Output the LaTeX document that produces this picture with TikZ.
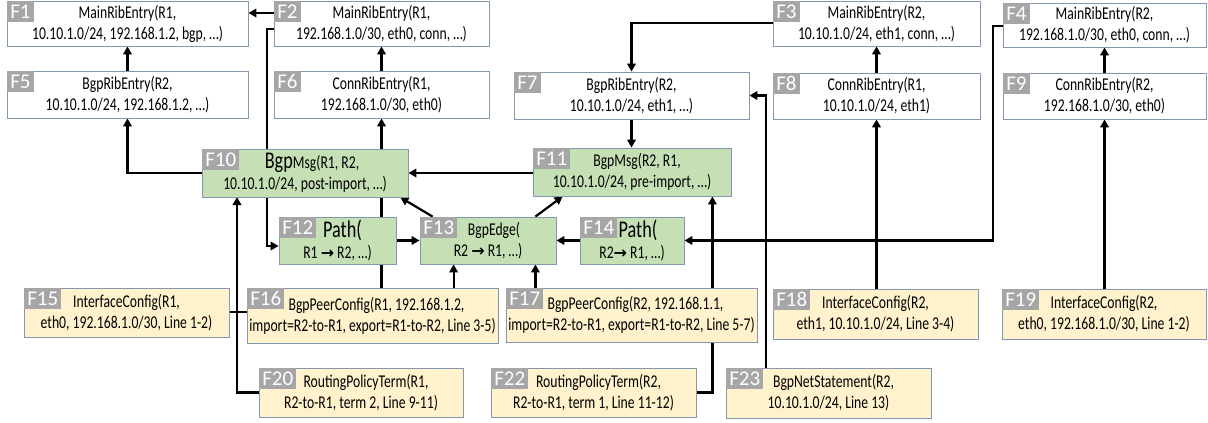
\documentclass[tikz,border=0pt]{standalone}
\usepackage{fontspec}
\setmainfont{Carlito}[FakeStretch=0.76]
\newfontfamily\labfont{Carlito}
\newfontfamily\arrowfont{DejaVu Sans}
\usetikzlibrary{arrows.meta,backgrounds}
\definecolor{bordc}{HTML}{8497B0}
\definecolor{labg}{HTML}{A6A6A6}
\definecolor{grn}{HTML}{C5E0B4}
\definecolor{ylw}{HTML}{FFF2CC}
\newcommand{\bigw}[1]{{\fontsize{24}{21}\selectfont #1}}
\newcommand{\rar}{{\arrowfont\bfseries\fontsize{16}{21}\selectfont →}}
\tikzset{
  box/.style={draw=bordc, line width=0.8pt, align=center, inner sep=0pt, font=\fontsize{18}{21}\selectfont},
  wbox/.style={box, fill=white},
  gbox/.style={box, fill=grn},
  ybox/.style={box, fill=ylw},
  tag/.style={fill=labg, text=white, font=\labfont\fontsize{21}{21}\selectfont, inner xsep=3pt, inner ysep=0pt, minimum height=21pt, anchor=north west},
  arr/.style={line width=2.2pt, -{Triangle[length=8pt,width=8.5pt]}}
}
\newcommand{\mkbox}[7]{%
  \node[#1, minimum width={(#4-#2)*1pt}, minimum height={(#5-#3)*1pt}] (#6) at ({(#2+#4)/2},{(#3+#5)/2}) {#7};
  \node[tag] (#6t) at ([shift={(0.5,0.5)}]#6.north west) {#6};
}
\begin{document}
\begin{tikzpicture}[x=1pt,y=-1pt]
\useasboundingbox (0,0) rectangle (1208,423);
\mkbox{wbox}{7}{1}{248}{46}{F1}{MainRibEntry(R1,\\10.10.1.0/24, 192.168.1.2, bgp, …)}
\mkbox{wbox}{274}{1}{489}{46}{F2}{MainRibEntry(R1,\\192.168.1.0/30, eth0, conn, …)}
\mkbox{wbox}{773}{1}{980}{46}{F3}{MainRibEntry(R2,\\10.10.1.0/24, eth1, conn, …)}
\mkbox{wbox}{1003}{3}{1206}{47}{F4}{MainRibEntry(R2,\\192.168.1.0/30, eth0, conn, …)}
\mkbox{wbox}{7}{71}{248}{118}{F5}{BgpRibEntry(R2,\\10.10.1.0/24, 192.168.1.2, …)}
\mkbox{wbox}{274}{71}{489}{118}{F6}{ConnRibEntry(R1,\\192.168.1.0/30, eth0)}
\mkbox{wbox}{514}{72}{749}{119}{F7}{BgpRibEntry(R2,\\10.10.1.0/24, eth1, …)}
\mkbox{wbox}{773}{73}{980}{119}{F8}{ConnRibEntry(R1,\\10.10.1.0/24, eth1)}
\mkbox{wbox}{1003}{73}{1206}{119}{F9}{ConnRibEntry(R2,\\192.168.1.0/30, eth0)}
\mkbox{gbox}{202}{149}{408}{197}{F10}{\hspace*{14pt}\bigw{Bgp}Msg(R1, R2,\\10.10.1.0/24, post-import, …)}
\mkbox{gbox}{533}{148}{731}{196}{F11}{\hspace*{10pt}BgpMsg(R2, R1,\\10.10.1.0/24, pre-import, …)}
\mkbox{gbox}{279}{217}{396}{264}{F12}{\hspace*{10pt}\bigw{Path(}\\R1 \rar{} R2, …)}
\mkbox{gbox}{420}{217}{556}{264}{F13}{\hspace*{12pt}BgpEdge(\\R2 \rar{} R1, …)}
\mkbox{gbox}{580}{217}{684}{264}{F14}{\hspace*{12pt}\bigw{Path(}\\R2\rar{} R1, …)}
\mkbox{ybox}{24}{288}{229}{337}{F15}{InterfaceConfig(R1,\\eth0, 192.168.1.0/30, Line 1-2)}
\mkbox{ybox}{247}{288}{498}{343}{F16}{\hspace*{8pt}BgpPeerConfig(R1, 192.168.1.2,\\import=R2-to-R1, export=R1-to-R2, Line 3-5)}
\mkbox{ybox}{506}{288}{757}{342}{F17}{\hspace*{8pt}BgpPeerConfig(R2, 192.168.1.1,\\import=R2-to-R1, export=R1-to-R2, Line 5-7)}
\mkbox{ybox}{773}{289}{978}{339}{F18}{InterfaceConfig(R2,\\eth1, 10.10.1.0/24, Line 3-4)}
\mkbox{ybox}{1002}{289}{1206}{339}{F19}{InterfaceConfig(R2,\\eth0, 192.168.1.0/30, Line 1-2)}
\mkbox{ybox}{259}{368}{463}{417}{F20}{\hspace*{10pt}RoutingPolicyTerm(R1,\\R2-to-R1, term 2, Line 9-11)}
\mkbox{ybox}{491}{368}{696}{417}{F22}{\hspace*{10pt}RoutingPolicyTerm(R2,\\R2-to-R1, term 1, Line 11-12)}
\mkbox{ybox}{726}{368}{931}{418}{F23}{\hspace*{10pt}BgpNetStatement(R2,\\10.10.1.0/24,  Line 13)}
\begin{scope}[on background layer]
\draw[arr] (F2.west|-0,13) -- (F1.east|-0,13);
\draw[arr] (F5.north) -- (F1.south);
\draw[arr] (F10.west|-0,173) -| (F5.south);
\draw[arr] (F2.west|-0,29) -- (267,29) -- (267,246) -- (F12.west|-0,246);
\draw[arr] (F15.east|-0,312) -| (F6.south);
\draw[arr] (F6.north) -- (F2.south);
\draw[arr] (F20.west) -| (237,197);
\draw[arr] (F3.west|-0,23) -| (F7.north);
\draw[arr] (F7.south) -- (F7.south|-F11.north);
\draw[arr] (F11.west|-0,173) -- (F10.east|-0,173);
\draw[arr] ([xshift=13pt]F13.north west) -- ([xshift=-8pt]F10.south east);
\draw[arr] ([xshift=-21pt]F13.north east) -- ([xshift=30pt]F11.south west);
\draw[arr] (F12.east) -- (F13.west);
\draw[arr] (F14.west) -- (F13.east);
\draw[arr] (F4.west|-0,26) -- (993,26) |- (F14.east);
\draw[arr] (F8.north) -- (F8.north|-F3.south);
\draw[arr] (F8.south|-F18.north) -- (F8.south);
\draw[arr] (F9.north) -- (F4.south);
\draw[arr] (F9.south|-F19.north) -- (F9.south);
\draw[arr] ([xshift=40pt]F23.north west) |- (F7.east);
\draw[arr] (F22.east) -| ([xshift=-19pt]F11.south east);
\draw[arr] ([xshift=34pt]F13.south west|-F16.north) -- ([xshift=34pt]F13.south west);
\draw[arr] ([xshift=-21pt]F13.south east|-F17.north) -- ([xshift=-21pt]F13.south east);
\end{scope}
\end{tikzpicture}
\end{document}
